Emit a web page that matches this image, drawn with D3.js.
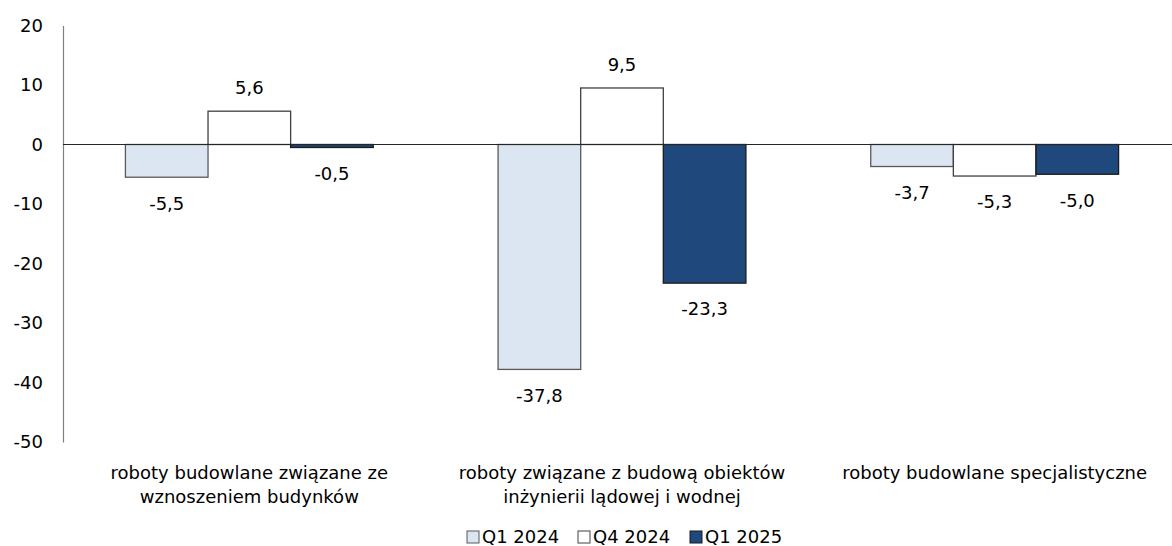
<!DOCTYPE html>
<meta charset="utf-8">
<script src="https://d3js.org/d3.v7.min.js"></script>
<style>
body { margin: 0; background: #fff; }
text { font-family: "DejaVu Sans", Verdana, sans-serif; fill: #000; }
</style>
<div id="chart"></div>
<script>
var categories = [
    ["roboty budowlane związane ze", "wznoszeniem budynków"],
    ["roboty związane z budową obiektów", "inżynierii lądowej i wodnej"],
    ["roboty budowlane specjalistyczne"]
];
var seriesNames = ["Q1 2024", "Q4 2024", "Q1 2025"];
var q1_2024 = [-5.5, -37.8, -3.7];
var q4_2024 = [5.6, 9.5, -5.3];
var q1_2025 = [-0.5, -23.3, -5.0];
var yTicks = [20, 10, 0, -10, -20, -30, -40, -50];

var seriesValues = [q1_2024, q4_2024, q1_2025];
var fills = ["#dce6f2", "#ffffff", "#1f497d"];
var strokes = ["#595959", "#404040", "#1a1a1a"];

var width = 1172, height = 546;
var fontSize = 18;

var svg = d3.select("#chart").append("svg")
    .attr("width", width)
    .attr("height", height);

// Scales: groups on x, series inside each group, values on y.
var x0 = d3.scaleBand().domain(d3.range(categories.length)).range([63, 1181]);
var groupW = x0.bandwidth();
var x1 = d3.scaleBand().domain(d3.range(seriesNames.length))
    .range([groupW * 0.1675, groupW * 0.8325]);
var y = d3.scaleLinear().domain([-50, 20]).range([442, 25.5]);

function barX(gi, si) {
    return x0(gi) + x1(si);
}

// y axis: only the labels and the vertical line.
var yAxis = d3.axisLeft(y).tickValues(yTicks).tickSize(0).tickPadding(20)
    .tickFormat(function(d) { return String(d); });
var ya = svg.append("g")
    .attr("transform", "translate(63,0)")
    .call(yAxis);
ya.select(".domain").attr("stroke", "#808080").attr("stroke-width", 1.2);
ya.selectAll("text")
    .style("font-size", fontSize + "px")
    .style("font-family", "'DejaVu Sans', Verdana, sans-serif")
    .attr("fill", "#000");

// bars
var rows = [];
categories.forEach(function(c, gi) {
    seriesValues.forEach(function(vals, si) {
        rows.push({ g: gi, s: si, v: vals[gi] });
    });
});

svg.append("g").selectAll("rect")
    .data(rows)
    .enter().append("rect")
    .attr("x", function(d) { return barX(d.g, d.s); })
    .attr("width", x1.bandwidth())
    .attr("y", function(d) { return y(Math.max(0, d.v)); })
    .attr("height", function(d) { return Math.abs(y(d.v) - y(0)); })
    .attr("fill", function(d) { return fills[d.s]; })
    .attr("stroke", function(d) { return strokes[d.s]; })
    .attr("stroke-width", 1.3);

// zero line
svg.append("line")
    .attr("x1", 63).attr("x2", width)
    .attr("y1", y(0)).attr("y2", y(0))
    .attr("stroke", "#262626")
    .attr("stroke-width", 1.2);

// value labels, comma as decimal separator
var fmt = function(v) { return v.toFixed(1).replace(".", ","); };
svg.append("g").selectAll("text")
    .data(rows)
    .enter().append("text")
    .attr("x", function(d) { return barX(d.g, d.s) + x1.bandwidth() / 2; })
    .attr("y", function(d) { return d.v >= 0 ? y(d.v) - 23 : y(d.v) + 26; })
    .attr("dy", "0.35em")
    .attr("text-anchor", "middle")
    .style("font-size", fontSize + "px")
    .text(function(d) { return fmt(d.v); });

// category labels
var cat = svg.append("g").selectAll("text")
    .data(categories)
    .enter().append("text")
    .attr("x", function(d, i) { return x0(i) + groupW / 2; })
    .attr("y", 473)
    .attr("text-anchor", "middle")
    .style("font-size", fontSize + "px");
cat.selectAll("tspan")
    .data(function(d) { return d; })
    .enter().append("tspan")
    .attr("x", function() { return d3.select(this.parentNode).attr("x"); })
    .attr("dy", function(d, i) { return i === 0 ? "0.35em" : "24px"; })
    .text(function(d) { return d; });

// legend
var legendX = [467, 578, 690];
var legend = svg.append("g").selectAll("g")
    .data(seriesNames)
    .enter().append("g")
    .attr("transform", function(d, i) { return "translate(" + legendX[i] + ",537)"; });
legend.append("rect")
    .attr("x", 0).attr("y", -6)
    .attr("width", 12).attr("height", 12)
    .attr("fill", function(d, i) { return fills[i]; })
    .attr("stroke", function(d, i) { return strokes[i]; })
    .attr("stroke-width", 1);
legend.append("text")
    .attr("x", 15)
    .attr("dy", "0.35em")
    .style("font-size", fontSize + "px")
    .text(function(d) { return d; });
</script>
